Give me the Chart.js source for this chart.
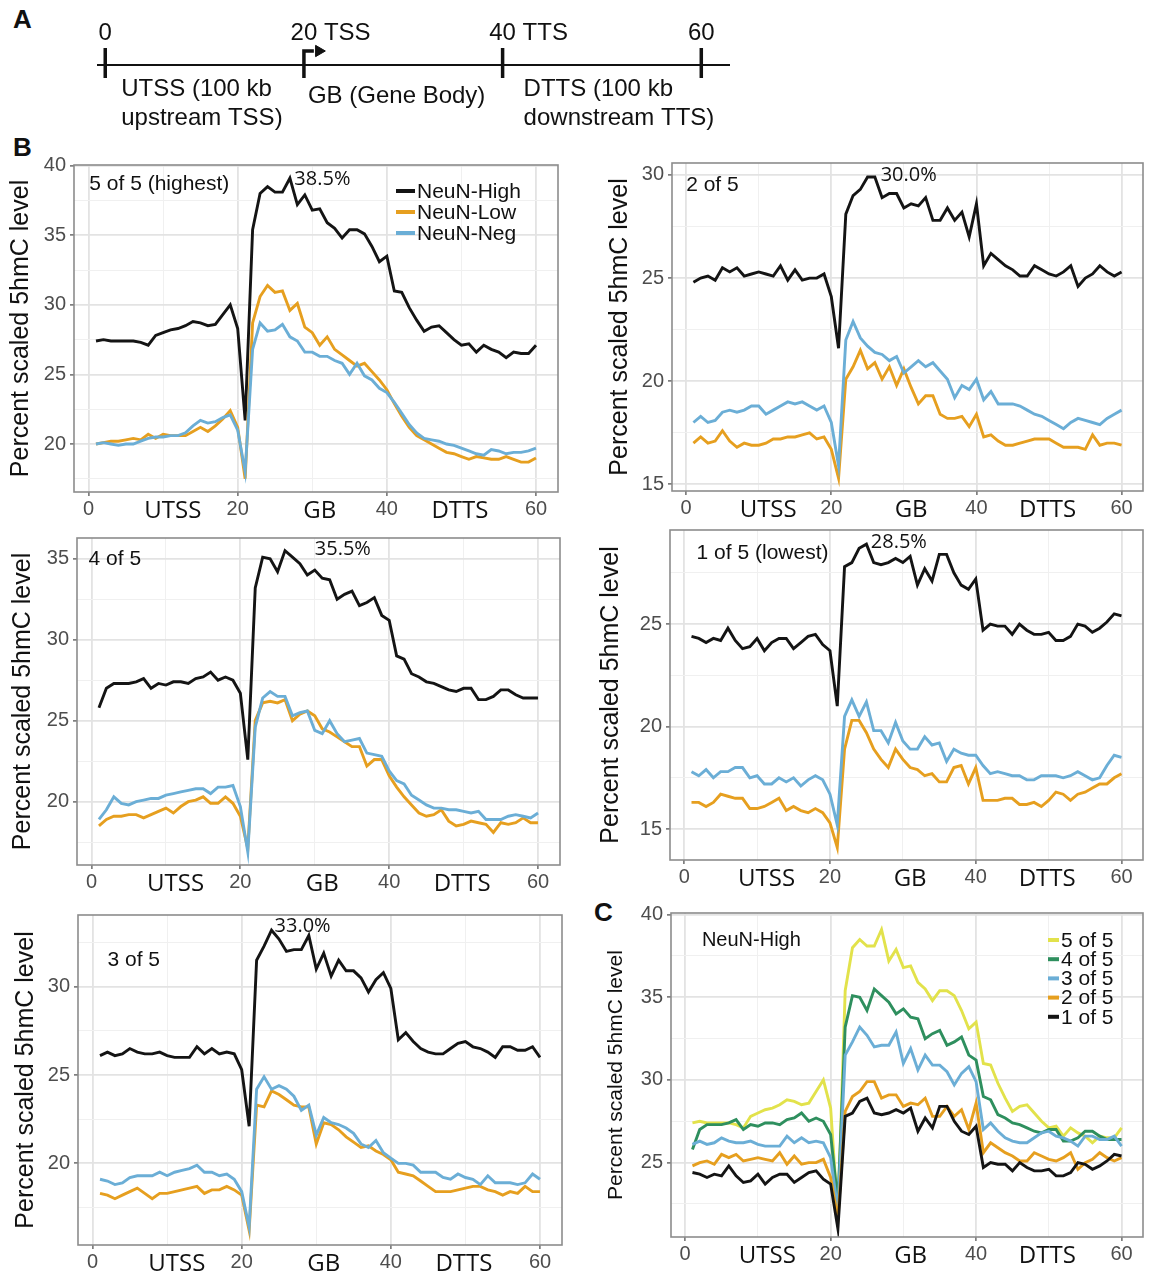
<!DOCTYPE html>
<html lang="en">
<head>
<meta charset="UTF-8">
<title>5hmC profiles by expression quintile</title>
<script src="https://cdn.jsdelivr.net/npm/chart.js"></script>
<style>
  body { margin: 0; background: #fff; overflow: hidden; }
  #page { position: relative; width: 1159px; height: 1280px; }
  .box { position: absolute; }
  .letter { position: absolute; font: bold 26px "Liberation Sans", Arial, sans-serif; line-height: 1; color: #111; }
</style>
</head>
<body>
<div id="page">
  <div class="letter" style="left:13px;top:6px">A</div>
  <div class="letter" style="left:13px;top:134px">B</div>
  <div class="letter" style="left:594px;top:899px">C</div>
  <div class="box" style="left:0;top:0;width:760px;height:134px"><canvas id="schema"></canvas></div>
</div>
<script>
// bins along UTSS (1-20), gene body (21-40), DTTS (41-60)
const bins = [1,2,3,4,5,6,7,8,9,10,11,12,13,14,15,16,17,18,19,20,21,22,23,24,25,26,27,28,29,30,
              31,32,33,34,35,36,37,38,39,40,41,42,43,44,45,46,47,48,49,50,51,52,53,54,55,56,57,58,59,60];
const xTickValues = [0, 20, 40, 60];
const xTickLabels = ['0', '20', '40', '60'];
const xMinorValues = [10, 30, 50];
const regionWords = ['UTSS', 'GB', 'DTTS'];
const regionWordAt = [11.3, 31, 49.8];

const seriesNames = ['NeuN-High', 'NeuN-Low', 'NeuN-Neg'];
const quintileNames = ['5 of 5', '4 of 5', '3 of 5', '2 of 5', '1 of 5'];
const panelTags = ['5 of 5 (highest)', '2 of 5', '4 of 5', '1 of 5 (lowest)', '3 of 5'];
const peakLabels = ['38.5%', '30.0%', '35.5%', '28.5%', '33.0%'];

// 5 of 5 (highest)
const q5High = [27.4,27.5,27.4,27.4,27.4,27.4,27.3,27.1,27.8,28.0,28.2,28.3,28.5,28.8,28.7,28.5,28.6,29.3,30.0,28.3,
                21.7,35.4,38.0,38.5,38.1,38.1,39.1,37.2,37.9,36.8,36.9,35.9,35.5,34.8,35.4,35.4,35.1,34.2,33.1,33.5,
                31.0,30.9,29.8,28.9,28.1,28.4,28.5,28.0,27.5,27.1,27.2,26.6,27.1,26.8,26.6,26.2,26.6,26.5,26.5,27.1];
const q5Low  = [20.0,20.1,20.2,20.2,20.3,20.4,20.3,20.7,20.4,20.7,20.6,20.6,20.6,20.9,21.2,20.9,21.3,21.8,22.4,21.2,
                17.5,28.7,30.6,31.4,30.9,31.0,29.6,30.1,28.4,28.0,27.1,27.7,26.8,26.4,26.0,25.6,25.8,25.2,24.6,23.9,
                22.9,22.0,21.2,20.6,20.3,20.0,19.7,19.4,19.3,19.1,18.9,19.1,19.0,18.9,18.9,19.1,18.9,18.7,18.7,19.0];
const q5Neg  = [20.0,20.1,20.0,19.9,20.0,20.0,20.2,20.4,20.5,20.5,20.6,20.6,20.8,21.3,21.7,21.5,21.6,21.9,22.1,21.0,
                18.0,26.8,28.7,28.1,28.2,28.6,27.7,27.4,26.6,26.6,26.3,26.3,26.0,25.8,25.0,25.8,24.9,24.6,24.0,23.7,
                23.0,22.2,21.4,20.8,20.4,20.3,20.2,20.0,19.9,19.7,19.5,19.3,19.2,19.6,19.5,19.3,19.4,19.4,19.5,19.7];

// 4 of 5
const q4High = [25.8,27.0,27.3,27.3,27.3,27.4,27.6,27.0,27.3,27.2,27.4,27.4,27.3,27.6,27.7,28.0,27.5,27.7,27.5,26.7,
                22.6,33.2,35.1,35.0,34.2,35.5,35.1,34.7,34.0,34.3,33.8,33.7,32.5,32.8,33.0,32.1,32.3,32.6,31.5,31.2,
                29.0,28.8,27.9,27.7,27.4,27.3,27.1,26.9,26.8,27.0,27.0,26.3,26.3,26.5,26.9,26.9,26.6,26.4,26.4,26.4];
const q4Low  = [18.5,18.9,19.1,19.1,19.2,19.2,19.0,19.2,19.4,19.6,19.3,19.7,20.0,20.1,20.3,19.9,19.9,20.3,19.9,19.1,
                17.1,25.0,26.1,26.2,26.1,26.3,25.0,25.4,25.6,25.3,24.5,24.3,24.0,23.7,23.4,23.4,22.2,22.6,22.6,21.6,
                20.9,20.3,19.8,19.3,19.1,19.2,19.5,18.8,18.5,18.6,18.8,18.7,18.6,18.1,18.7,18.6,18.7,19.0,18.7,18.7];
const q4Neg  = [18.9,19.5,20.3,19.9,19.8,20.0,20.1,20.2,20.2,20.4,20.5,20.6,20.7,20.8,20.8,20.5,20.9,20.9,21.0,19.7,
                16.9,24.6,26.4,26.8,26.5,26.5,25.3,25.5,25.6,24.4,24.2,25.0,24.2,23.7,23.8,23.9,23.0,22.9,22.8,21.9,
                21.3,21.1,20.4,20.1,19.8,19.6,19.6,19.5,19.5,19.4,19.3,19.4,18.9,18.9,18.9,19.1,19.2,19.1,19.0,19.3];

// 3 of 5
const q3High = [26.1,26.3,26.1,26.2,26.5,26.3,26.2,26.2,26.3,26.1,26.0,26.0,26.0,26.6,26.2,26.5,26.2,26.3,26.2,25.3,
                22.1,31.5,32.3,33.2,32.7,32.0,32.1,32.1,32.9,31.0,31.9,30.6,31.5,30.9,30.9,30.5,29.7,30.4,30.8,29.9,
                27.0,27.4,26.9,26.5,26.3,26.2,26.2,26.5,26.8,26.9,26.6,26.5,26.3,26.0,26.6,26.6,26.4,26.4,26.6,26.0];
const q3Low  = [18.3,18.2,18.0,18.2,18.4,18.6,18.3,18.0,18.3,18.3,18.4,18.5,18.6,18.7,18.3,18.5,18.5,18.7,18.5,18.2,
                16.2,23.3,23.2,24.1,23.9,23.6,23.3,23.2,23.2,21.1,22.3,22.2,21.9,21.5,21.2,20.9,21.0,20.7,20.5,20.2,
                19.5,19.4,19.3,19.0,18.7,18.4,18.4,18.4,18.5,18.6,18.7,18.7,18.5,18.4,18.2,18.4,18.3,18.7,18.4,18.4];
const q3Neg  = [19.1,19.0,18.8,18.9,19.2,19.3,19.3,19.3,19.5,19.3,19.5,19.6,19.7,19.9,19.5,19.5,19.3,19.4,19.1,18.4,
                16.4,24.2,24.9,24.2,24.4,24.2,23.8,23.0,23.3,21.6,22.6,22.3,22.2,22.0,21.7,21.1,20.9,21.3,20.6,20.3,
                20.0,20.0,19.9,19.5,19.5,19.5,19.2,19.1,19.4,19.2,19.1,18.8,19.3,18.9,18.9,18.9,18.8,18.9,19.4,19.1];

// 2 of 5
const q2High = [24.8,25.0,25.1,24.9,25.5,25.3,25.5,25.1,25.2,25.3,25.2,25.1,25.6,24.9,25.4,24.9,25.0,25.0,25.2,24.1,
                21.6,28.1,29.0,29.3,29.9,29.9,28.9,29.1,29.1,28.4,28.6,28.5,28.9,27.8,27.8,28.4,27.8,28.2,27.0,28.6,
                25.6,26.2,25.9,25.6,25.4,25.1,25.1,25.6,25.4,25.2,25.1,25.3,25.6,24.6,25.0,25.2,25.6,25.3,25.1,25.3];
const q2Low  = [17.0,17.3,17.0,17.1,17.6,17.1,16.8,17.0,16.9,16.9,17.0,17.2,17.2,17.3,17.3,17.4,17.5,17.2,17.3,16.7,
                15.3,20.1,20.7,21.5,20.6,20.9,20.1,20.7,19.8,20.6,19.7,18.9,19.3,19.3,18.4,18.2,18.2,18.3,17.8,18.4,
                17.3,17.4,17.1,16.9,16.9,17.0,17.1,17.2,17.2,17.2,17.0,16.8,16.8,16.8,16.7,17.4,16.9,17.0,17.0,16.9];
const q2Neg  = [18.0,18.3,18.0,18.1,18.5,18.6,18.5,18.6,18.8,18.8,18.4,18.6,18.8,19.0,18.9,19.0,18.8,18.6,18.8,18.0,
                15.9,22.0,22.9,22.1,21.7,21.4,21.3,21.0,21.2,20.4,20.7,21.0,20.7,20.9,20.5,20.1,19.2,19.8,19.6,20.1,
                19.1,19.5,18.9,18.9,18.9,18.8,18.6,18.4,18.3,18.1,17.9,17.7,18.0,18.2,18.1,18.0,17.9,18.2,18.4,18.6];

// 1 of 5 (lowest)
const q1High = [24.4,24.3,24.1,24.3,24.2,24.8,24.2,23.8,23.9,24.3,23.7,24.1,24.3,24.3,23.8,24.1,24.4,24.5,24.0,23.7,
                21.0,27.8,28.0,28.7,28.9,28.0,27.9,28.0,28.2,28.0,28.3,26.9,27.7,27.1,28.4,28.4,27.5,26.9,26.7,27.2,
                24.7,25.0,24.9,24.9,24.5,25.0,24.7,24.5,24.5,24.6,24.2,24.2,24.4,25.0,24.9,24.6,24.8,25.1,25.5,25.4];
const q1Low  = [16.3,16.3,16.1,16.3,16.7,16.6,16.5,16.5,16.0,16.0,16.1,16.3,16.5,15.9,16.1,15.9,15.8,16.0,15.8,15.3,
                14.1,18.9,20.3,20.3,19.7,18.9,18.4,18.0,18.9,18.4,18.0,17.9,17.6,17.7,17.3,17.3,18.0,18.1,17.2,18.0,
                16.4,16.4,16.4,16.5,16.5,16.2,16.2,16.3,16.1,16.4,16.8,16.7,16.4,16.7,16.8,17.0,17.2,17.2,17.5,17.7];
const q1Neg  = [17.8,17.6,17.9,17.5,17.8,17.8,18.0,18.0,17.5,17.6,17.2,17.2,17.5,17.3,17.5,17.1,17.4,17.6,17.4,16.7,
                15.2,20.5,21.3,20.5,21.2,19.8,19.8,19.2,20.2,19.3,18.9,18.9,19.5,19.1,19.2,18.3,18.9,18.7,18.6,18.6,
                18.1,17.7,17.8,17.7,17.6,17.6,17.4,17.4,17.6,17.6,17.6,17.5,17.6,17.8,17.6,17.4,17.5,18.1,18.6,18.5];

// schematic (panel A)
const schemaTicks = [0, 20, 40, 60];
const schemaTickText = ['0', '20 TSS', '40 TTS', '60'];
const schemaRegions = [['UTSS (100 kb', 'upstream TSS)'], ['GB (Gene Body)'], ['DTTS (100 kb', 'downstream TTS)']];

const NUM = '"Liberation Sans", Arial, sans-serif';
const WORD = '"Open Sans", sans-serif';
const C_HIGH = '#141414', C_LOW = '#E69F1F', C_NEG = '#6BAED6';
const quintileColors = ['#E2E24B', '#2E8F5E', '#6BAED6', '#E69F1F', '#141414'];

// ---------- panel A ----------
const SX_MIN = -0.83, SX_MAX = 62.89;
const seg = (pts, w) => ({ data: pts, borderColor: '#111', borderWidth: w, pointRadius: 0, fill: false, tension: 0 });
const schemaSets = [seg([{x: SX_MIN, y: 0}, {x: SX_MAX, y: 0}], 2)];
schemaTicks.forEach(t => {
  if (t === 20) {
    schemaSets.push(seg([{x: t, y: -13}, {x: t, y: 14}, {x: t + 1.0, y: 14}], 3.5));
    schemaSets.push({ data: [{x: t + 1.5, y: 14}], showLine: false, pointStyle: 'triangle', rotation: 90,
                      pointRadius: 6.5, backgroundColor: '#111', borderColor: '#111', borderWidth: 1 });
  } else {
    schemaSets.push(seg([{x: t, y: 17}, {x: t, y: -13}], 3.5));
  }
});
const regionShift = [16, 4, 21];
const regionRow = [-24, -31, -24];
new Chart(document.getElementById('schema'), {
  type: 'line',
  data: { datasets: schemaSets },
  options: {
    responsive: true, maintainAspectRatio: false, animation: false, events: [],
    layout: { padding: { left: 97, right: 30, top: 40, bottom: 44 } },
    plugins: { legend: { display: false }, tooltip: { enabled: false } },
    scales: {
      x: { type: 'linear', min: SX_MIN, max: SX_MAX, display: false },
      y: { min: -25, max: 25, display: false }
    }
  },
  plugins: [{
    id: 'schemaText',
    afterDraw(chart) {
      const { ctx, scales: { x, y } } = chart;
      ctx.save();
      ctx.font = '24px ' + NUM;
      ctx.fillStyle = '#111';
      ctx.textBaseline = 'middle';
      ctx.textAlign = 'left';
      schemaTicks.forEach((t, i) => {
        const head = schemaTickText[i].split(' ')[0];
        ctx.fillText(schemaTickText[i], x.getPixelForValue(t) - ctx.measureText(head).width / 2, y.getPixelForValue(32));
      });
      schemaRegions.forEach((lines, i) => {
        const px = x.getPixelForValue(schemaTicks[i]) + regionShift[i];
        lines.forEach((ln, j) => ctx.fillText(ln, px, y.getPixelForValue(regionRow[i] - j * 29)));
      });
      ctx.restore();
    }
  }]
});

// ---------- panels B and C ----------
function notesPlugin(p) {
  return {
    id: 'notes',
    afterDraw(chart) {
      const { ctx, chartArea: a, scales: { x, y } } = chart;
      ctx.save();
      ctx.strokeStyle = '#8c8c8c';
      ctx.lineWidth = 1.6;
      ctx.strokeRect(a.left, a.top, a.right - a.left, a.bottom - a.top);
      ctx.textBaseline = 'middle';
      ctx.textAlign = 'left';
      ctx.fillStyle = '#111';
      p.notes.forEach(n => {
        ctx.font = n.font;
        ctx.fillText(n.text, x.getPixelForValue(n.at[0]), y.getPixelForValue(n.at[1]));
      });
      if (p.legend) {
        const lg = p.legend;
        ctx.font = lg.font;
        lg.names.forEach((name, i) => {
          const yy = a.top + lg.dy + i * lg.step;
          ctx.strokeStyle = lg.colors[i];
          ctx.lineWidth = 4;
          ctx.beginPath();
          ctx.moveTo(a.left + lg.sw[0], yy);
          ctx.lineTo(a.left + lg.sw[1], yy);
          ctx.stroke();
          ctx.fillStyle = '#111';
          ctx.fillText(name, a.left + lg.tx, yy + 1);
        });
      }
      ctx.restore();
    }
  };
}

// x ticks: numbered breaks, minor grid breaks and the region words
const xAllTicks = xTickValues.concat(xMinorValues, regionWordAt).sort((a, b) => a - b);
const xLabelFor = v => {
  const i = xTickValues.indexOf(v);
  if (i >= 0) return xTickLabels[i];
  const w = regionWordAt.indexOf(v);
  return w >= 0 ? regionWords[w] : '';
};
const xKind = v => xTickValues.includes(v) ? 'major' : (xMinorValues.includes(v) ? 'minor' : 'word');

function addPanel(p) {
  const T = p.box.t - 16, H = p.box.b + 42 - T;
  const div = document.createElement('div');
  div.className = 'box';
  div.style.cssText = `left:${p.L}px;top:${T}px;width:${p.W}px;height:${H}px`;
  const cv = document.createElement('canvas');
  div.appendChild(cv);
  document.getElementById('page').appendChild(div);

  const yTicks = [];
  for (let v = Math.ceil(p.y[0] / 2.5) * 2.5; v <= p.y[1]; v += 2.5) yTicks.push(v);

  new Chart(cv, {
    type: 'line',
    data: {
      datasets: p.series.map(s => ({
        label: s.name,
        data: bins.map((b, i) => ({ x: b, y: s.values[i] })),
        borderColor: s.color, borderWidth: 2.9, pointRadius: 0, tension: 0, fill: false, order: s.order
      }))
    },
    options: {
      responsive: true, maintainAspectRatio: false, animation: false, events: [],
      layout: { padding: { left: 0, bottom: 0, top: p.box.t - T, right: p.L + p.W - p.box.r } },
      plugins: { legend: { display: false }, tooltip: { enabled: false } },
      scales: {
        x: {
          type: 'linear', min: -1.95, max: 62.95,
          afterBuildTicks: s => { s.ticks = xAllTicks.map(v => ({ value: v })); },
          afterFit: s => { s.height = T + H - p.box.b; },
          border: { display: false },
          grid: {
            color: c => {
              const k = c.tick ? xKind(c.tick.value) : 'word';
              return k === 'major' ? '#e3e3e3' : (k === 'minor' ? '#f0f0f0' : 'rgba(0,0,0,0)');
            },
            lineWidth: c => (c.tick && xKind(c.tick.value) === 'major') ? 1.8 : 1,
            tickColor: c => (c.tick && xKind(c.tick.value) === 'major') ? '#555' : 'rgba(0,0,0,0)',
            tickLength: 4, tickWidth: 1.3
          },
          ticks: {
            autoSkip: false, maxRotation: 0, padding: 1,
            callback: v => xLabelFor(v),
            font: c => (c.tick && xKind(c.tick.value) === 'word') ? { family: WORD, size: 24 } : { family: NUM, size: 20 },
            color: c => (c.tick && xKind(c.tick.value) === 'word') ? '#111' : '#4d4d4d'
          }
        },
        y: {
          min: p.y[0], max: p.y[1],
          afterBuildTicks: s => { s.ticks = yTicks.map(v => ({ value: v })); },
          afterFit: s => { s.width = p.box.l - p.L; },
          border: { display: false },
          grid: {
            color: c => (c.tick && c.tick.value % 5 === 0) ? '#e3e3e3' : '#f0f0f0',
            lineWidth: c => (c.tick && c.tick.value % 5 === 0) ? 1.8 : 1,
            tickColor: c => (c.tick && c.tick.value % 5 === 0) ? '#555' : 'rgba(0,0,0,0)',
            tickLength: 4, tickWidth: 1.3
          },
          ticks: {
            padding: 4,
            callback: v => (v % 5 === 0 ? String(v) : ''),
            font: { family: NUM, size: 20 },
            color: '#4d4d4d'
          },
          title: {
            display: true, text: 'Percent scaled 5hmC level',
            font: { family: NUM, size: p.titleSize }, color: '#111',
            padding: { top: p.titlePad, bottom: 0 }
          }
        }
      }
    },
    plugins: [notesPlugin(p)]
  });
}

const bSets = [[q5High, q5Low, q5Neg], [q2High, q2Low, q2Neg], [q4High, q4Low, q4Neg],
               [q1High, q1Low, q1Neg], [q3High, q3Low, q3Neg]];
const bLayout = [
  { L: 0,   W: 575, box: { l: 74,  t: 165, r: 558,  b: 492 },  y: [16.55, 40.05], titlePad: 6,  tagAt: [0.1, 38.65], peakAt: [27.6, 39.05] },
  { L: 585, W: 574, box: { l: 672, t: 163, r: 1143, b: 491 },  y: [14.68, 30.58], titlePad: 20, tagAt: [0.0, 29.5],  peakAt: [26.8, 30.0] },
  { L: 0,   W: 575, box: { l: 77,  t: 538, r: 560,  b: 865 },  y: [16.09, 36.28], titlePad: 8,  tagAt: [-0.4, 35.0], peakAt: [30.0, 35.6] },
  { L: 585, W: 574, box: { l: 670, t: 530, r: 1143, b: 860 },  y: [13.49, 29.59], titlePad: 11, tagAt: [1.7, 28.45], peakAt: [25.6, 29.0] },
  { L: 0,   W: 575, box: { l: 78,  t: 915, r: 562,  b: 1245 }, y: [15.38, 34.06], titlePad: 11, tagAt: [2.0, 31.5],  peakAt: [24.4, 33.4] }
];

bLayout.forEach((lay, k) => {
  const vals = bSets[k];
  addPanel(Object.assign({}, lay, {
    titleSize: 25,
    series: [
      { name: seriesNames[0], values: vals[0], color: C_HIGH, order: 2 },
      { name: seriesNames[1], values: vals[1], color: C_LOW, order: 1 },
      { name: seriesNames[2], values: vals[2], color: C_NEG, order: 0 }
    ],
    notes: [
      { text: panelTags[k], at: lay.tagAt, font: '21px ' + NUM },
      { text: peakLabels[k], at: lay.peakAt, font: '20px ' + WORD }
    ],
    legend: k === 0 ? { names: seriesNames, colors: [C_HIGH, C_LOW, C_NEG], font: '21px ' + NUM,
                        dy: 26, step: 21, sw: [322, 341], tx: 343 } : null
  }));
});

// panel C: NeuN-High profile of every quintile
const cValues = [q5High, q4High, q3High, q2High, q1High];
addPanel({
  L: 585, W: 574, box: { l: 671, t: 913, r: 1143, b: 1237 }, y: [20.5, 40.1],
  titleSize: 21, titlePad: 19,
  series: quintileNames.map((n, i) => ({ name: n, values: cValues[i], color: quintileColors[i], order: 4 - i })),
  notes: [{ text: 'NeuN-High', at: [2.3, 38.46], font: '20px ' + NUM }],
  legend: { names: quintileNames, colors: quintileColors, font: '21px ' + NUM,
            dy: 27, step: 19.2, sw: [377, 388], tx: 390 }
});
</script>
</body>
</html>
